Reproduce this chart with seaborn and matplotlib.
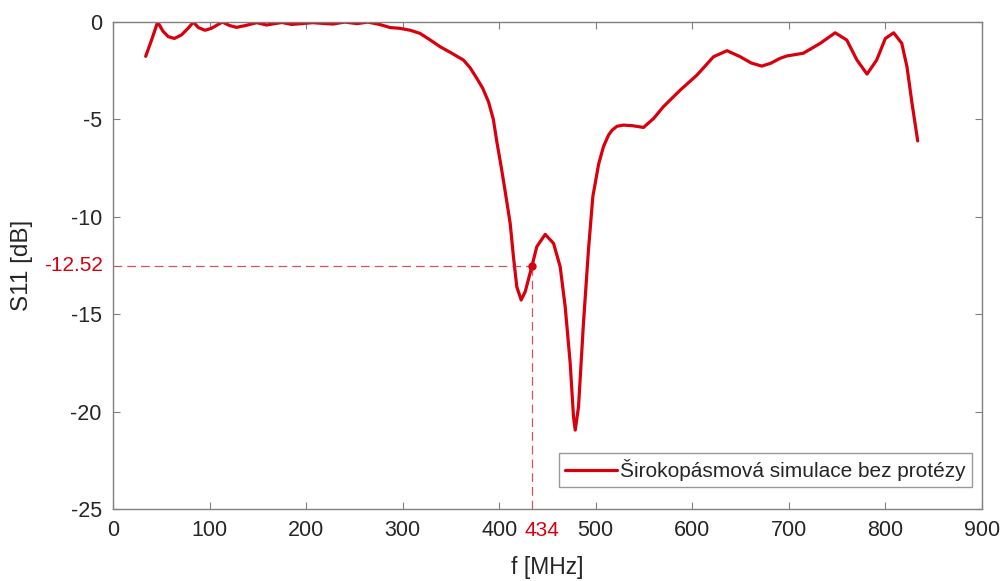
import numpy as np
import pandas as pd
import matplotlib
matplotlib.use("Agg")
import matplotlib.pyplot as plt
import seaborn as sns

# values
freq_mhz = [33.9, 40, 46.3, 52, 57.3, 63.6, 71, 78, 83.3, 88.4, 95.3, 102, 113.3,
            121, 128, 137, 149, 159, 175, 185, 197, 207, 218, 228, 240, 253, 264,
            276, 287, 297, 308, 318, 328, 339, 351, 363, 370, 377, 383, 389, 394,
            397.6, 402, 406, 411.4, 414.8, 418.3, 422.8, 427, 434, 439, 447.7,
            456.3, 463.2, 468.4, 473.6, 477, 478.8, 482.2, 487.3, 492.5, 497,
            503, 508, 513.3, 517, 522, 528.8, 538, 549.5, 560, 570, 587.6, 604.9,
            622, 636, 649.7, 661, 672, 681, 691, 698, 715, 732.6, 748, 760, 770.6,
            781, 791, 800, 808.6, 817, 822.4, 827.6, 833.5]
s11_db = [-1.76, -0.92, 0.0, -0.48, -0.75, -0.84, -0.66, -0.31, 0.0, -0.28, -0.42,
          -0.32, 0.0, -0.18, -0.27, -0.18, -0.03, -0.15, -0.02, -0.12, -0.07,
          -0.03, -0.07, -0.1, 0.0, -0.08, 0.0, -0.12, -0.28, -0.32, -0.42, -0.58,
          -0.9, -1.27, -1.6, -1.95, -2.35, -2.9, -3.4, -4.1, -5.0, -6.15, -7.4,
          -8.62, -10.33, -12.05, -13.6, -14.27, -13.84, -12.52, -11.53, -10.9,
          -11.36, -12.56, -14.62, -17.53, -20.27, -20.95, -19.75, -15.47, -11.7,
          -8.97, -7.3, -6.4, -5.8, -5.55, -5.35, -5.29, -5.32, -5.41, -4.95,
          -4.35, -3.49, -2.72, -1.78, -1.47, -1.78, -2.1, -2.26, -2.12, -1.86,
          -1.74, -1.6, -1.09, -0.55, -0.92, -1.95, -2.67, -1.95, -0.84, -0.55,
          -1.09, -2.3, -4.17, -6.1]
marker_f = 434
marker_s11 = -12.52
legend_label = "Širokopásmová simulace bez protézy"

df = pd.DataFrame({"f": freq_mhz, "s11": s11_db})

sns.set_theme(style="white")
plt.rcParams["font.family"] = ["Liberation Sans", "DejaVu Sans"]
plt.rcParams["axes.unicode_minus"] = False

red = "#d9000d"
grey = "#808080"
text_col = "#262626"

fig = plt.figure(figsize=(10.04, 5.81), dpi=100)
ax = fig.add_axes([0.1125, 0.124, 0.8655, 0.838])

sns.lineplot(data=df, x="f", y="s11", color=red, linewidth=2.3, ax=ax,
             label=legend_label)

# marker at 434 MHz with dashed guides
ax.plot([marker_f, marker_f], [-25, marker_s11], color="#c8283c", lw=0.9,
        ls=(0, (7, 4)), alpha=0.8)
ax.plot([0, marker_f], [marker_s11, marker_s11], color="#c8283c", lw=0.9,
        ls=(0, (7, 4)), alpha=0.8)
ax.plot([marker_f], [marker_s11], "o", color=red, ms=5)
ax.annotate(str(marker_f), (marker_f, -25), xytext=(7, -9),
            textcoords="offset points", color=red, fontsize=15,
            ha="center", va="top")
ax.annotate(f"{marker_s11:.2f}", (0, marker_s11), xytext=(-7, 0),
            textcoords="offset points", color=red, fontsize=15,
            ha="right", va="center")

ax.set_xlim(0, 900)
ax.set_ylim(-25, 0)
ax.set_xticks(range(0, 901, 100))
ax.set_yticks(range(-25, 1, 5))
ax.set_xlabel("f [MHz]", fontsize=16.5, color=text_col, labelpad=11)
ax.set_ylabel("S11 [dB]", fontsize=17.5, color=text_col, labelpad=27)

ax.tick_params(direction="in", length=5, width=0.8, colors=grey,
               labelcolor=text_col, labelsize=15.5, top=True, right=True,
               bottom=True, left=True, pad=8)
for sp in ax.spines.values():
    sp.set_color(grey)
    sp.set_linewidth(1)

leg = ax.legend(loc="lower right", bbox_to_anchor=(0.9885, 0.045), fontsize=15,
                frameon=True, fancybox=False, borderaxespad=0, handlelength=2.5,
                handletextpad=0.15, borderpad=0.3)
leg.get_frame().set_edgecolor(grey)
leg.get_frame().set_linewidth(1)

fig.savefig("out.png", dpi=100)
